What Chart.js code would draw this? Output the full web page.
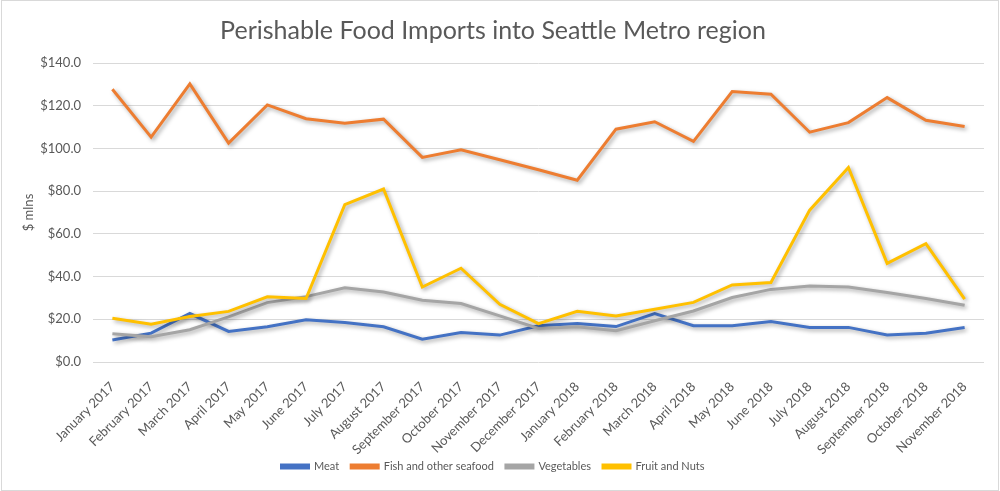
<!DOCTYPE html>
<html>
<head>
<meta charset="utf-8">
<script src="https://cdn.jsdelivr.net/npm/chart.js@4.4.1/dist/chart.umd.min.js"></script>
<style>
  html, body { margin: 0; padding: 0; background: #fff; }
  #wrap { position: relative; width: 996px; height: 489px; border: 1px solid #d9d9d9; margin: 0 0 0 1px; box-sizing: content-box; }
  #chart { display: block; }
</style>
</head>
<body>
<div id="wrap"><canvas id="chart" width="996" height="489"></canvas></div>
<script>
// Months on the x axis
const months = [
    'January 2017', 'February 2017', 'March 2017', 'April 2017', 'May 2017', 'June 2017',
    'July 2017', 'August 2017', 'September 2017', 'October 2017', 'November 2017', 'December 2017',
    'January 2018', 'February 2018', 'March 2018', 'April 2018', 'May 2018', 'June 2018',
    'July 2018', 'August 2018', 'September 2018', 'October 2018', 'November 2018'
];

// Series values ($ mlns)
const meat = [10.3, 13.5, 22.7, 14.3, 16.5, 19.8, 18.5, 16.5, 10.7, 13.8, 12.6, 17.0,
    18.0, 16.6, 22.7, 17.0, 17.0, 19.0, 16.2, 16.2, 12.6, 13.5, 16.2];
const fish = [127.7, 105.3, 130.2, 102.5, 120.4, 113.9, 111.8, 113.7, 95.8, 99.4, 94.7, 90.0,
    85.1, 109.0, 112.5, 103.3, 126.6, 125.4, 107.6, 112.1, 123.8, 113.2, 110.3];
const vegetables = [13.2, 11.8, 15.1, 21.1, 27.8, 30.6, 34.8, 32.8, 28.9, 27.4, 21.6, 15.7,
    16.5, 14.6, 19.3, 23.9, 30.2, 34.0, 35.6, 35.1, 32.5, 29.7, 26.6];
const fruitNuts = [20.5, 17.7, 21.3, 23.7, 30.5, 29.7, 73.7, 81.0, 35.1, 43.9, 27.0, 18.0,
    23.7, 21.6, 24.7, 27.9, 36.1, 37.2, 71.1, 91.1, 46.2, 55.4, 29.4];

// Y axis ticks
const yTicks = [0, 20, 40, 60, 80, 100, 120, 140];

const FONT = 'Lato, "Open Sans", sans-serif';
const GREY_TEXT = '#595959';

// Soft drop shadow under each line, like the spreadsheet look
const lineShadow = {
    id: 'lineShadow',
    beforeDatasetDraw(chart) {
        const ctx = chart.ctx;
        ctx.save();
        ctx.shadowColor = 'rgba(0, 0, 0, 0.35)';
        ctx.shadowBlur = 4;
        ctx.shadowOffsetX = 2;
        ctx.shadowOffsetY = 2;
    },
    afterDatasetDraw(chart) {
        chart.ctx.restore();
    }
};

function series(label, data, color, order) {
    return {
        label: label,
        data: data,
        borderColor: color,
        backgroundColor: color,
        borderWidth: 3,
        pointRadius: 0,
        tension: 0,
        order: order
    };
}

const ctx = document.getElementById('chart').getContext('2d');
new Chart(ctx, {
    type: 'line',
    data: {
        labels: months,
        datasets: [
            series('Meat', meat, '#4472C4', 4),
            series('Fish and other seafood', fish, '#ED7D31', 3),
            series('Vegetables', vegetables, '#A5A5A5', 2),
            series('Fruit and Nuts', fruitNuts, '#FFC000', 1)
        ]
    },
    options: {
        responsive: false,
        animation: false,
        layout: {
            padding: { left: 0, right: 14, top: 0, bottom: 8 }
        },
        plugins: {
            title: {
                display: true,
                text: 'Perishable Food Imports into Seattle Metro region',
                color: GREY_TEXT,
                font: { family: FONT, size: 25, weight: 'normal' },
                padding: { top: 15, bottom: 17 }
            },
            legend: {
                position: 'bottom',
                labels: {
                    color: GREY_TEXT,
                    font: { family: FONT, size: 11 },
                    boxWidth: 27,
                    boxHeight: 3,
                    padding: 12,
                    sort: (a, b) => a.datasetIndex - b.datasetIndex
                }
            },
            tooltip: { enabled: false }
        },
        scales: {
            x: {
                offset: true,
                grid: { display: false },
                border: { display: false },
                afterFit: (scale) => {
                    scale.height = 87;
                    // let the long rotated labels run into the legend band
                    scale._computeLabelArea = () => undefined;
                },
                ticks: {
                    color: GREY_TEXT,
                    font: { family: FONT, size: 13 },
                    minRotation: 45,
                    maxRotation: 45,
                    autoSkip: false,
                    padding: 9
                }
            },
            y: {
                min: yTicks[0],
                max: yTicks[yTicks.length - 1],
                afterBuildTicks: (scale) => {
                    scale.ticks = yTicks.map(v => ({ value: v }));
                },
                afterFit: (scale) => { scale.width = 91; },
                grid: { color: '#d9d9d9', lineWidth: 1, drawTicks: false },
                border: { display: false },
                ticks: {
                    color: GREY_TEXT,
                    font: { family: FONT, size: 13 },
                    padding: 12,
                    callback: (v) => '$' + Number(v).toFixed(1)
                },
                title: {
                    display: true,
                    text: '$ mlns',
                    color: GREY_TEXT,
                    font: { family: FONT, size: 13 },
                    padding: { top: 19, bottom: 0 }
                }
            }
        }
    },
    plugins: [lineShadow]
});
</script>
</body>
</html>
